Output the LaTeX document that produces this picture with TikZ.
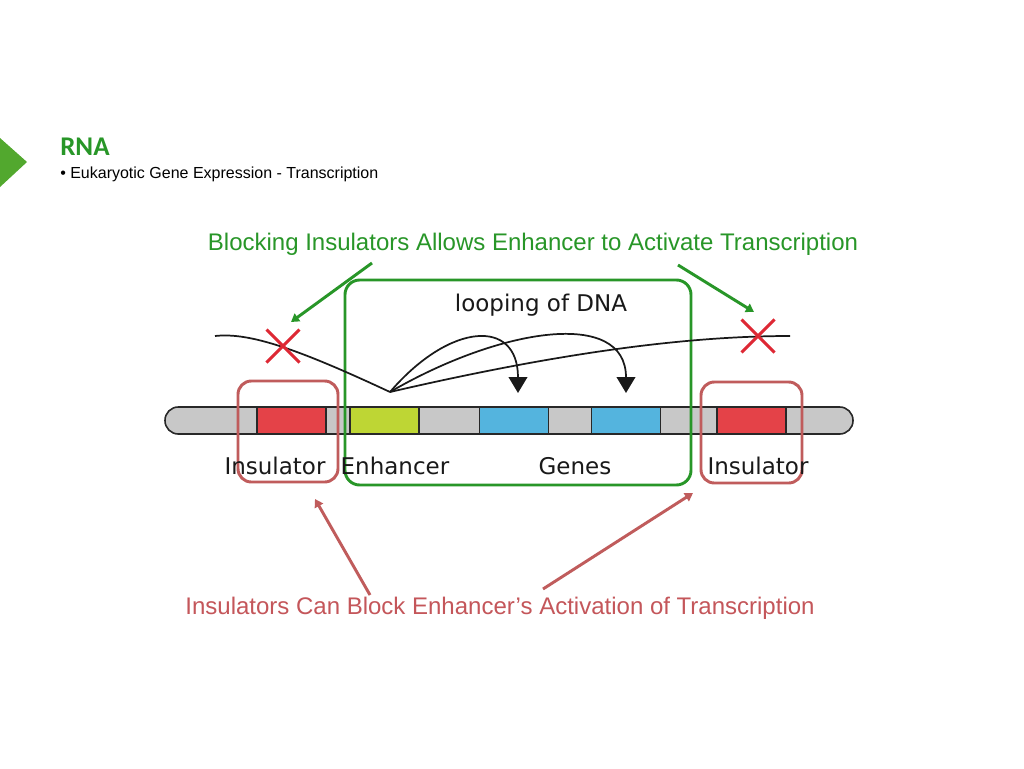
\documentclass[tikz,border=0pt]{standalone}
\usepackage{fontspec}
\setmainfont{Liberation Sans}
\newfontfamily\dejavu{DejaVu Sans}
\newfontfamily\carlito{Carlito}
\usetikzlibrary{arrows.meta}
\definecolor{triG}{RGB}{82,168,46}
\definecolor{titleG}{RGB}{40,150,40}
\definecolor{boxRed}{RGB}{192,92,92}
\definecolor{txtRed}{RGB}{196,86,90}
\definecolor{xRed}{RGB}{222,40,52}
\definecolor{insRed}{RGB}{228,66,72}
\definecolor{enhGreen}{RGB}{190,214,52}
\definecolor{geneBlue}{RGB}{84,180,222}
\definecolor{barGrey}{RGB}{200,200,200}
\definecolor{barEdge}{RGB}{40,40,40}
\definecolor{dnaBlack}{RGB}{25,25,25}
\tikzset{
  seg/.style={draw=barEdge, line width=1.2pt, minimum width=51.75pt, minimum height=20.25pt, inner sep=0pt},
  lab/.style={font=\dejavu\fontsize{17.25}{20}\selectfont, text=dnaBlack, inner sep=0pt},
  dna/.style={draw=dnaBlack, line width=1.3pt},
  dnatip/.style={dna, -{Triangle[width=14pt,length=12pt]}},
  xmark/.style={draw=xRed, line width=2.3pt},
  hiRed/.style={draw=boxRed, line width=2.2pt, rounded corners=10pt},
  hiGreen/.style={draw=titleG, line width=2.2pt, rounded corners=11pt},
  gArrow/.style={draw=titleG, line width=2.2pt, -{Triangle[width=7pt,length=6pt]}},
  rArrow/.style={draw=boxRed, line width=2.2pt, -{Triangle[width=7pt,length=6pt]}},
  bigtxt/.style={font=\fontsize{18}{21}\selectfont, inner sep=0pt}
}
\begin{document}
\begin{tikzpicture}[x=0.75pt,y=-0.75pt]
\useasboundingbox (0,0) rectangle (1024,768);
\fill[white] (0,0) rectangle (1024,768);
% header
\fill[triG] (0,138) -- (27,162) -- (0,187) -- cycle;
\node[anchor=base west, inner sep=0pt, text=titleG, font=\carlito\bfseries\fontsize{20.25}{24}\selectfont] (rna) at (60,155) {RNA};
\node[anchor=west, inner sep=0pt, font=\fontsize{12}{14}\selectfont] (sub) at (60,174) {\textbullet\ Eukaryotic Gene Expression - Transcription};
% chromosome bar
\draw[fill=barGrey, draw=barEdge, line width=1.2pt, rounded corners=10pt] (165,407) rectangle (853,434);
\node[seg, fill=insRed] (ins1) at (291.5,420.5) {};
\node[seg, fill=enhGreen] (enh) at (384.5,420.5) {};
\node[seg, fill=geneBlue] (gene1) at (514,420.5) {};
\node[seg, fill=geneBlue] (gene2) at (626,420.5) {};
\node[seg, fill=insRed] (ins2) at (751.5,420.5) {};
% highlight boxes
\draw[hiRed] (238,381) rectangle (338,482);
\draw[hiRed] (701,382) rectangle (802,483);
\draw[hiGreen] (345,280) rectangle (691,485);
% labels
\node[lab, anchor=base] (lIns1) at (275,474) {Insulator};
\node[lab, anchor=base] (lEnh) at (395,474) {Enhancer};
\node[lab, anchor=base] (lGenes) at (575,474) {Genes};
\node[lab, anchor=base] (lIns2) at (758,474) {Insulator};
\node[lab, anchor=base] (loop) at (541,311) {looping of DNA};
% DNA strands
\coordinate (dStart) at (215,336);
\coordinate (dEnh) at (390,392);
\coordinate (dEnd) at (790,336);
\coordinate (t1) at (518,393);
\coordinate (t2) at (626,393);
\draw[dna] (dStart) .. controls (250,332) and (300,350) .. (dEnh);
\draw[dnatip] (dEnh) .. controls (450,322) and (518,318) .. (t1);
\draw[dnatip] (dEnh) .. controls (500,328) and (626,308) .. (t2);
\draw[dna] (dEnh) .. controls (550,355) and (680,336) .. (dEnd);
% X marks
\coordinate (xL) at (283,346);
\coordinate (xR) at (758,336);
\draw[xmark] ([shift={(-16.5,-16.5)}]xL) -- ([shift={(16.5,16.5)}]xL);
\draw[xmark] ([shift={(-16.5,16.5)}]xL) -- ([shift={(16.5,-16.5)}]xL);
\draw[xmark] ([shift={(-16.5,-16.5)}]xR) -- ([shift={(16.5,16.5)}]xR);
\draw[xmark] ([shift={(-16.5,16.5)}]xR) -- ([shift={(16.5,-16.5)}]xR);
% titles
\node[bigtxt, text=titleG] (gTitle) at (533,244) {Blocking Insulators Allows Enhancer to Activate Transcription};
\node[bigtxt, text=txtRed] (rTitle) at (500,608) {Insulators Can Block Enhancer’s Activation of Transcription};
% arrows
\coordinate (ga1) at (372,263);
\coordinate (ga1e) at (291,322);
\coordinate (ga2) at (678,265);
\coordinate (ga2e) at (754,312);
\draw[gArrow] (ga1) -- (ga1e);
\draw[gArrow] (ga2) -- (ga2e);
\coordinate (ra1) at (370,595);
\coordinate (ra1e) at (315,499);
\coordinate (ra2) at (543,589);
\coordinate (ra2e) at (693,493);
\draw[rArrow] (ra1) -- (ra1e);
\draw[rArrow] (ra2) -- (ra2e);
\end{tikzpicture}
\end{document}
